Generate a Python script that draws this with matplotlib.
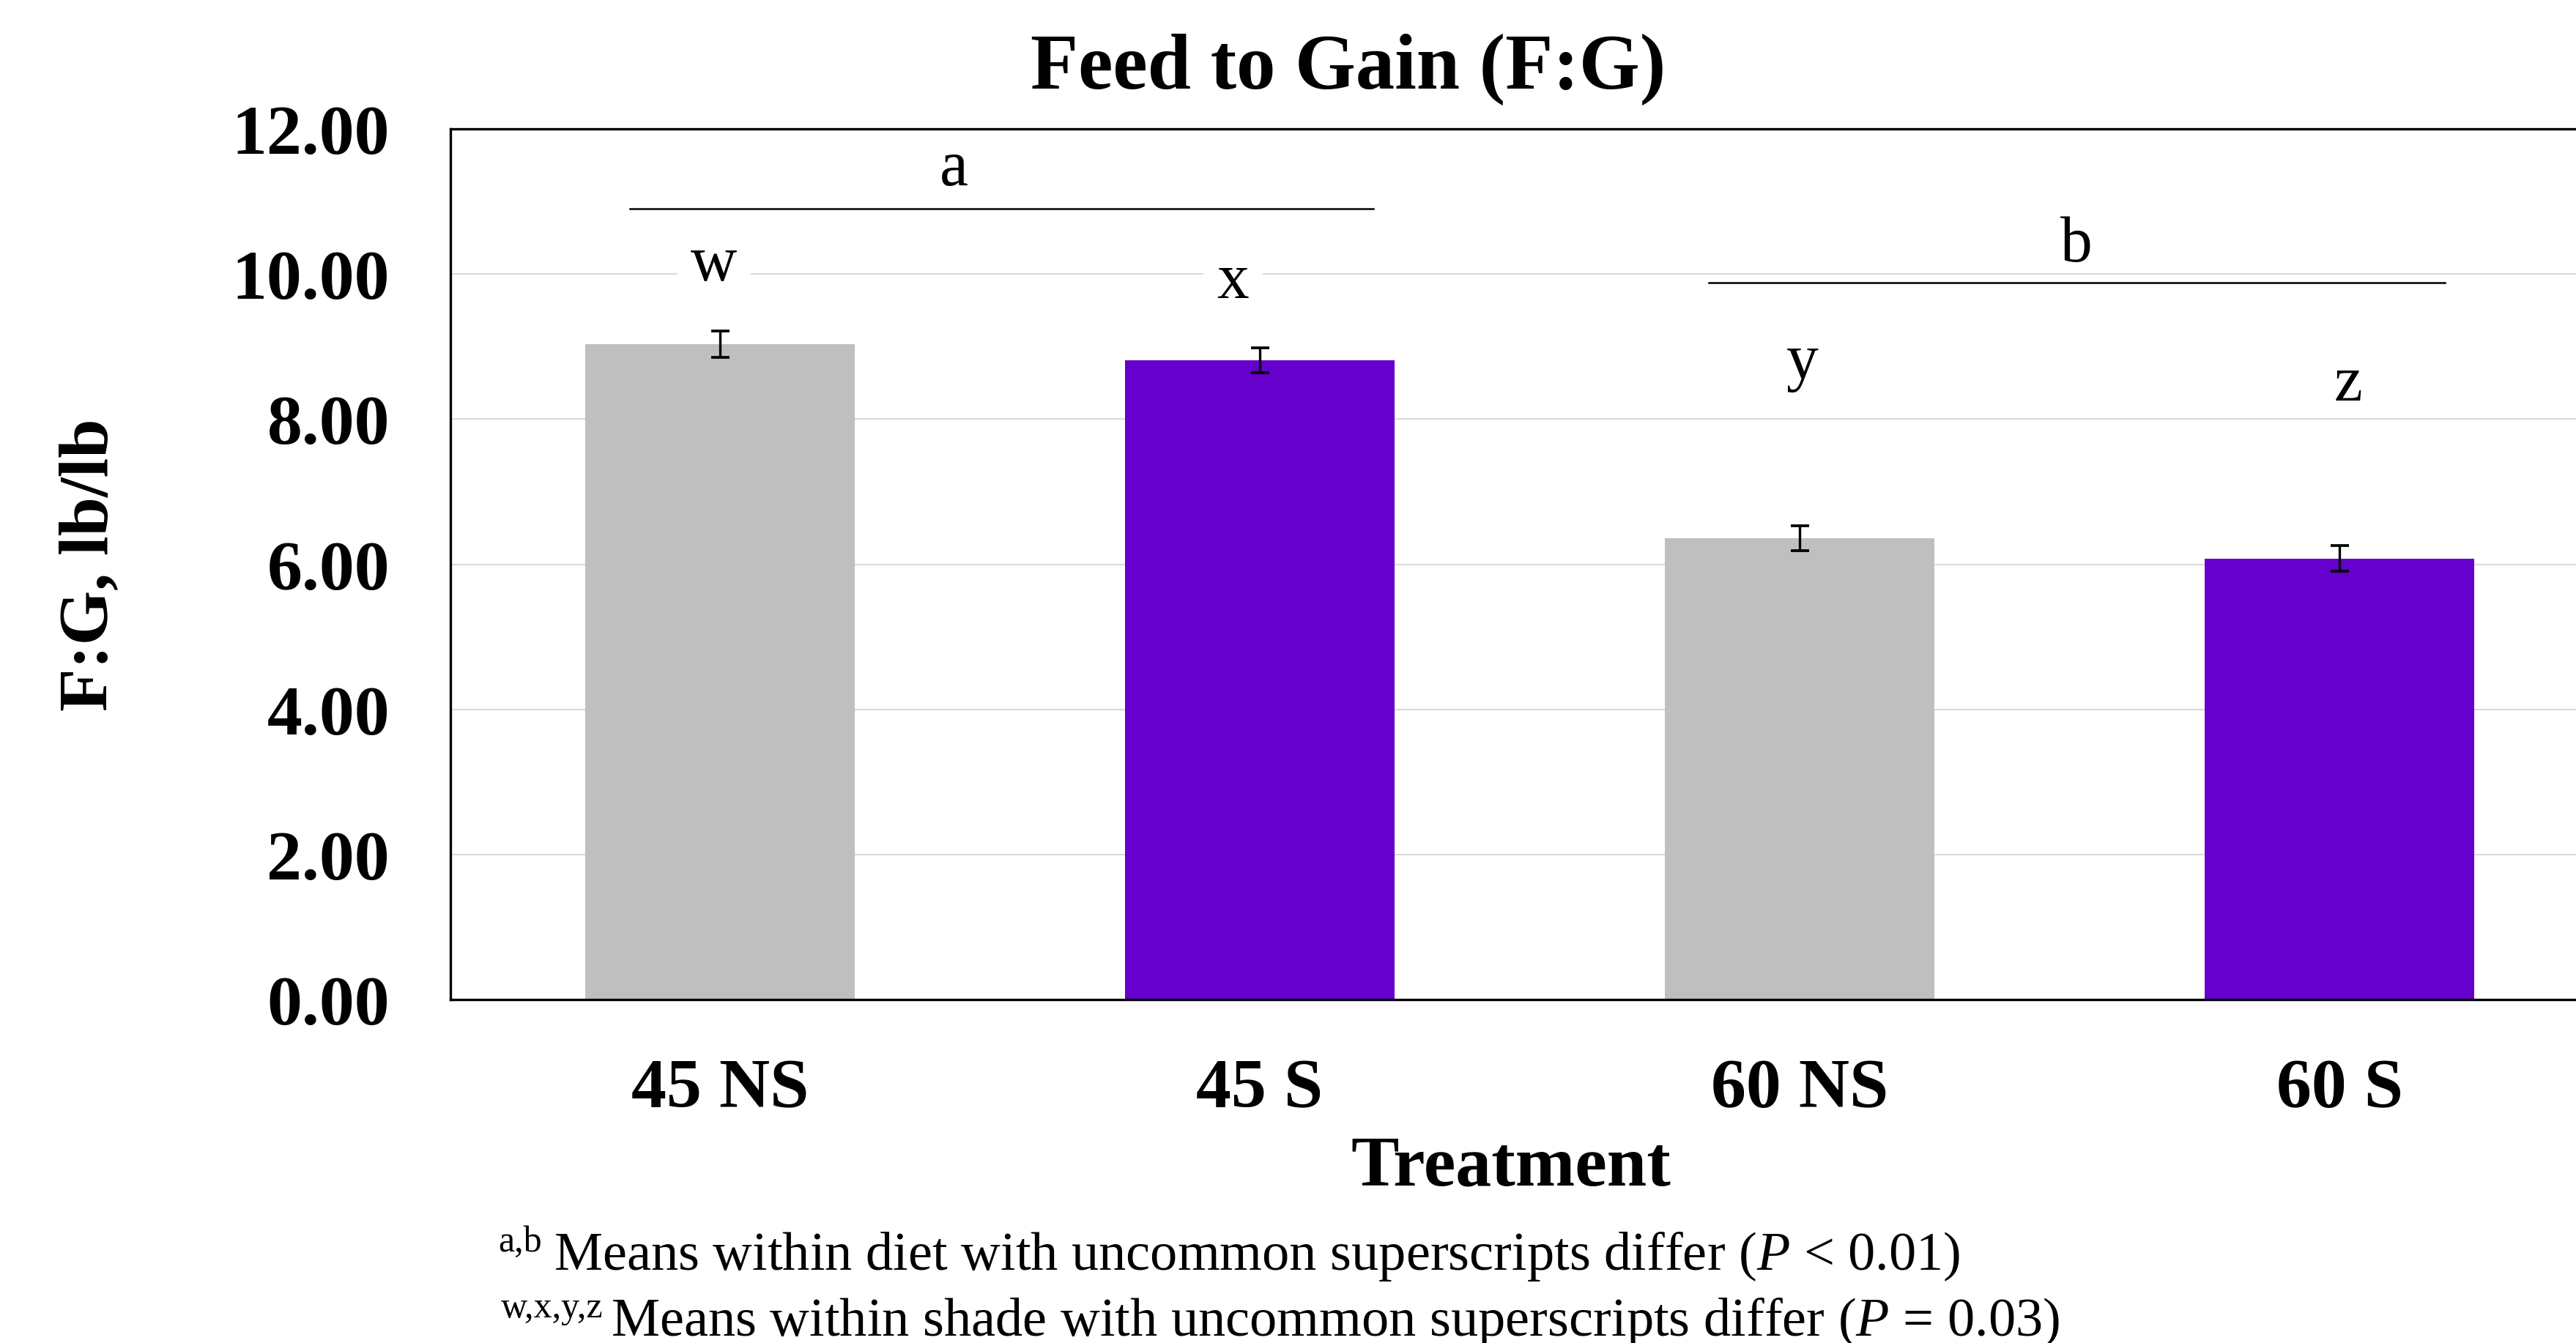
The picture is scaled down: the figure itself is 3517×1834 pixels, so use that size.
import numpy as np
import matplotlib
matplotlib.use('Agg')
import matplotlib.pyplot as plt

plt.rcParams['font.family'] = 'Liberation Serif'
plt.rcParams['mathtext.fontset'] = 'custom'
plt.rcParams['mathtext.rm'] = 'Liberation Serif'
plt.rcParams['mathtext.it'] = 'Liberation Serif:italic'

# Feed to gain by treatment
treatments = ['45 NS', '45 S', '60 NS', '60 S']
fg_means = [9.03, 8.81, 6.36, 6.08]
fg_se = [0.18, 0.17, 0.17, 0.18]
bar_colors = ['#BFBFBF', '#6600CC', '#BFBFBF', '#6600CC']
shade_letters = ['w', 'x', 'y', 'z']
diet_letters = ['a', 'b']

W, H = 3517, 1835
DPI = 300


def fx(px):
    return px / W


def fy(py):
    return 1 - py / H


fig = plt.figure(figsize=(W / DPI, H / DPI), dpi=DPI)
ax = fig.add_axes([fx(614.6), fy(1366), 2948 / W, 1189 / H])

x = np.arange(len(treatments))
ax.bar(x, fg_means, width=0.5, color=bar_colors, zorder=2,
       yerr=fg_se, capsize=3.0,
       error_kw=dict(ecolor='black', elinewidth=0.8, capthick=0.9, zorder=3))

ax.set_xlim(-0.5, 3.5)
ax.set_ylim(0, 12)
ax.set_yticks(np.arange(0, 12.01, 2))
ax.yaxis.set_major_formatter(matplotlib.ticker.FormatStrFormatter('%.2f'))
ax.set_xticks(x)
ax.set_xticklabels(treatments)
ax.tick_params(axis='both', length=0, labelsize=23)
ax.tick_params(axis='y', pad=19.8)
ax.tick_params(axis='x', pad=19.2)
for lab in ax.get_xticklabels() + ax.get_yticklabels():
    lab.set_fontweight('bold')

ax.yaxis.grid(True, color='#d9d9d9', lw=0.5)
ax.set_axisbelow(True)
for side in ['top', 'left', 'bottom', 'right']:
    ax.spines[side].set_linewidth(0.8)
    ax.spines[side].set_color('black')

# shade letters above each bar; the two upper ones sit on a gridline
letter_pos = [(-0.011, 9.92), (0.950, 9.68), (2.005, 8.57), (3.016, 8.27)]
for i, (lt, (lx, ly)) in enumerate(zip(shade_letters, letter_pos)):
    box = dict(facecolor='white', edgecolor='none', pad=4.5) if i < 2 else None
    ax.text(lx, ly, lt, ha='center', va='baseline', fontsize=21, zorder=4,
            bbox=box)

# diet brackets
ax.plot([-0.167, 1.210], [10.90, 10.90], color='black', lw=0.6)
ax.text(0.433, 11.23, diet_letters[0], ha='center', va='baseline', fontsize=21)
ax.plot([1.832, 3.195], [9.88, 9.88], color='black', lw=0.6)
ax.text(2.513, 10.18, diet_letters[1], ha='center', va='baseline', fontsize=21)

fig.text(fx(1841), fy(121), 'Feed to Gain (F:G)', ha='center', va='baseline',
         fontsize=25.6, fontweight='bold')
fig.text(fx(2063), fy(1619), 'Treatment', ha='center', va='baseline',
         fontsize=23.5, fontweight='bold')
fig.text(fx(123), fy(771.5), 'F:G, lb/lb', ha='center', va='center',
         rotation=90, fontsize=23, fontweight='bold')

# footnotes
fig.text(fx(680), fy(1709), 'a,b', ha='left', va='baseline', fontsize=12)
fig.text(fx(756), fy(1734),
         r'Means within diet with uncommon superscripts differ ($P$ < 0.01)',
         ha='left', va='baseline', fontsize=17.85)
fig.text(fx(684), fy(1799), 'w,x,y,z', ha='left', va='baseline', fontsize=12)
fig.text(fx(834), fy(1824),
         r'Means within shade with uncommon superscripts differ ($P$ = 0.03)',
         ha='left', va='baseline', fontsize=17.85)

fig.savefig('out.png', dpi=DPI, facecolor='white')
